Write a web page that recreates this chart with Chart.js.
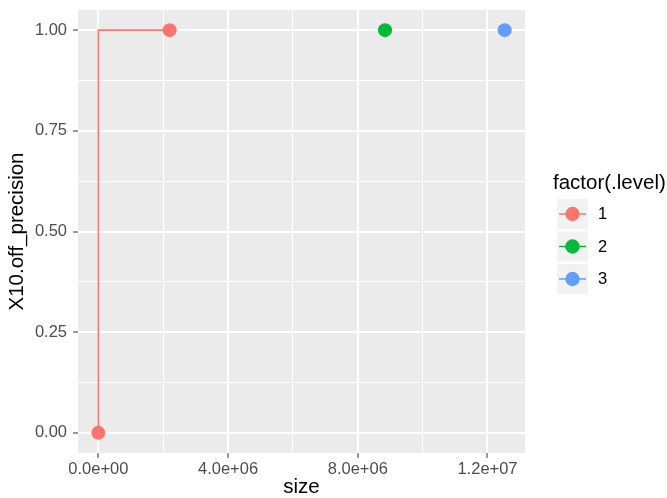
<!DOCTYPE html>
<html>
<head>
<meta charset="utf-8">
<script src="https://cdn.jsdelivr.net/npm/chart.js@4"></script>
<style>
  html, body { margin: 0; padding: 0; background: #ffffff; }
  #wrap { width: 667px; height: 498px; position: relative; }
</style>
</head>
<body>
<div id="wrap"><canvas id="chart" width="667" height="498"></canvas></div>
<script>
// data
const levels = ['1', '2', '3'];
const level1Size = [0, 2200000];
const level1Precision = [0, 1];
const level2Size = [8840000];
const level2Precision = [1];
const level3Size = [12530000];
const level3Precision = [1];

const xTicks = [0, 4000000, 8000000, 12000000];
const xTickLabels = ['0.0e+00', '4.0e+06', '8.0e+06', '1.2e+07'];
const yTicks = [0, 0.25, 0.5, 0.75, 1];
const yTickLabels = ['0.00', '0.25', '0.50', '0.75', '1.00'];

const levelColors = ['#F8766D', '#00BA38', '#619CFF'];
const font = '"Liberation Sans", Arial, sans-serif';
const tickSize = 16.5;
const titleSize = 20.5;

function points(xs, ys) {
    return xs.map((x, i) => ({ x: x, y: ys[i] }));
}

// majors plus minor gridlines halfway between them
function withMinors(majors, min, max) {
    const step = majors[1] - majors[0];
    const all = [];
    for (let v = majors[0] - step / 2; v <= max; v += step / 2) {
        if (v >= min) all.push(v);
    }
    return all;
}

function isMajor(list, v) {
    return list.some(t => Math.abs(t - v) < 1e-9 * Math.max(1, Math.abs(t)));
}

function labelFor(list, labels, v) {
    const i = list.findIndex(t => Math.abs(t - v) < 1e-9 * Math.max(1, Math.abs(t)));
    return i >= 0 ? labels[i] : '';
}

const xMin = -626500, xMax = 13156500;
const yMin = -0.05, yMax = 1.05;

const panelBg = {
    id: 'panelBg',
    beforeDraw(chart) {
        const a = chart.chartArea;
        const ctx = chart.ctx;
        ctx.save();
        ctx.fillStyle = '#EBEBEB';
        ctx.fillRect(a.left, a.top, a.right - a.left, a.bottom - a.top);
        ctx.restore();
    }
};

const ggLegend = {
    id: 'ggLegend',
    afterDraw(chart) {
        const ctx = chart.ctx;
        ctx.save();
        ctx.fillStyle = '#000000';
        ctx.font = titleSize + 'px ' + font;
        ctx.textBaseline = 'middle';
        ctx.textAlign = 'left';
        ctx.fillText('factor(.level)', 553, 183);
        levels.forEach((lab, i) => {
            const top = 199 + i * 32.5;
            ctx.fillStyle = '#F2F2F2';
            ctx.fillRect(557, top, 31, 30);
            const cy = top + 15;
            ctx.strokeStyle = levelColors[i];
            ctx.lineWidth = 1.5;
            ctx.beginPath();
            ctx.moveTo(559, cy);
            ctx.lineTo(586, cy);
            ctx.stroke();
            ctx.fillStyle = levelColors[i];
            ctx.beginPath();
            ctx.arc(572.5, cy, 7.2, 0, Math.PI * 2);
            ctx.fill();
            ctx.fillStyle = '#000000';
            ctx.font = tickSize + 'px ' + font;
            ctx.fillText(lab, 598, cy + 0.5);
        });
        ctx.restore();
    }
};

const ctx = document.getElementById('chart').getContext('2d');

new Chart(ctx, {
    type: 'scatter',
    data: {
        datasets: [
            {
                label: levels[0],
                data: points(level1Size, level1Precision),
                showLine: true,
                stepped: 'after',
                borderColor: levelColors[0],
                backgroundColor: levelColors[0],
                borderWidth: 1.6,
                pointRadius: 7,
                pointBorderWidth: 0
            },
            {
                label: levels[1],
                data: points(level2Size, level2Precision),
                borderColor: levelColors[1],
                backgroundColor: levelColors[1],
                pointRadius: 7,
                pointBorderWidth: 0
            },
            {
                label: levels[2],
                data: points(level3Size, level3Precision),
                borderColor: levelColors[2],
                backgroundColor: levelColors[2],
                pointRadius: 7,
                pointBorderWidth: 0
            }
        ]
    },
    options: {
        responsive: false,
        animation: false,
        layout: { padding: { left: 0, top: 10, right: 142, bottom: 0 } },
        plugins: {
            legend: { display: false },
            tooltip: { enabled: false }
        },
        scales: {
            x: {
                type: 'linear',
                min: xMin,
                max: xMax,
                afterBuildTicks(scale) {
                    scale.ticks = withMinors(xTicks, xMin, xMax).map(v => ({ value: v }));
                },
                afterFit(scale) {
                    scale.height = 45;
                    scale.paddingLeft = 0;
                    scale.paddingRight = 0;
                },
                border: { display: false },
                grid: {
                    color: '#FFFFFF',
                    lineWidth: c => isMajor(xTicks, c.tick.value) ? 2 : 1,
                    tickLength: 5,
                    tickWidth: 1,
                    tickColor: c => isMajor(xTicks, c.tick.value) ? '#333333' : 'rgba(0,0,0,0)'
                },
                ticks: {
                    autoSkip: false,
                    maxRotation: 0,
                    padding: 2,
                    color: '#4D4D4D',
                    font: { family: font, size: tickSize },
                    callback: v => labelFor(xTicks, xTickLabels, v)
                },
                title: {
                    display: true,
                    text: 'size',
                    color: '#000000',
                    font: { family: font, size: titleSize, lineHeight: 1 },
                    padding: { top: 0, bottom: 0 }
                }
            },
            y: {
                type: 'linear',
                min: yMin,
                max: yMax,
                afterBuildTicks(scale) {
                    scale.ticks = withMinors(yTicks, yMin, yMax).map(v => ({ value: v }));
                },
                afterFit(scale) {
                    scale.width = 78;
                    scale.paddingTop = 0;
                    scale.paddingBottom = 0;
                },
                border: { display: false },
                grid: {
                    color: '#FFFFFF',
                    lineWidth: c => isMajor(yTicks, c.tick.value) ? 2 : 1,
                    tickLength: 5,
                    tickWidth: 1,
                    tickColor: c => isMajor(yTicks, c.tick.value) ? '#333333' : 'rgba(0,0,0,0)'
                },
                ticks: {
                    autoSkip: false,
                    padding: 6,
                    color: '#4D4D4D',
                    font: { family: font, size: tickSize },
                    callback: v => labelFor(yTicks, yTickLabels, v)
                },
                title: {
                    display: true,
                    text: 'X10.off_precision',
                    color: '#000000',
                    font: { family: font, size: titleSize, lineHeight: 1 },
                    padding: { top: 7.5, bottom: 0 }
                }
            }
        }
    },
    plugins: [panelBg, ggLegend]
});
</script>
</body>
</html>
